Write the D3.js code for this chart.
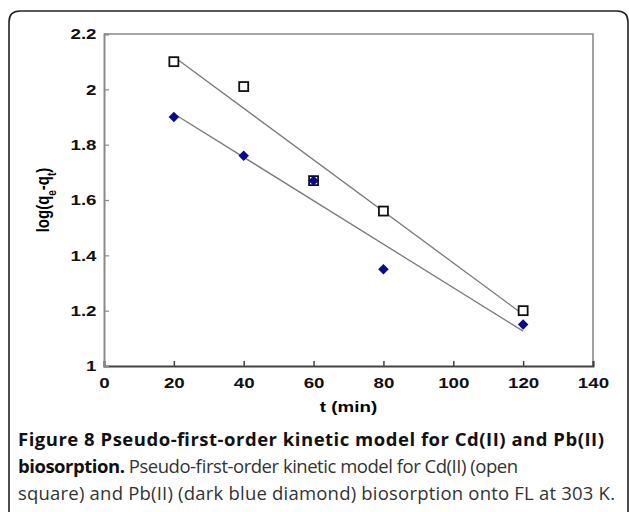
<!DOCTYPE html>
<html lang="en">
<head>
  <meta charset="UTF-8" />
  <title>Pseudo-first-order kinetic model</title>
  <style>
    body { margin: 0; background: #fff; overflow: hidden; }
    svg { position: absolute; top: 0; left: 0; }
    .tick text { font-family: "Liberation Sans", Arial, sans-serif; font-weight: bold; font-size: 15px; fill: #111; }
    .cap { font-family: "Open Sans", "Noto Sans", sans-serif; font-size: 18.5px; fill: #222; }
  </style>
</head>
<body>

<svg id="chart"></svg>

<script src="https://d3js.org/d3.v7.min.js"></script>
<script>
  const width = 629, height = 512;

  // data
  const times = [20, 40, 60, 80, 120];
  const cdValues = [2.1, 2.01, 1.67, 1.56, 1.2];   // open square
  const pbValues = [1.9, 1.76, 1.67, 1.35, 1.15];  // dark blue diamond
  const xTicks = [0, 20, 40, 60, 80, 100, 120, 140];
  const yTicks = [1, 1.2, 1.4, 1.6, 1.8, 2, 2.2];

  const stretch = 1.25; // the figure's text is a bit wide

  const svg = d3.select("#chart").attr("width", width).attr("height", height);

  // outer frame, open at the bottom
  svg.append("path")
    .attr("d", "M9,520 L9,22 Q9,11 20,11 L617,11 Q628,11 628,22 L628,520")
    .attr("fill", "none").attr("stroke", "#222").attr("stroke-width", 1.6);

  const plot = { left: 104, top: 34, right: 593, bottom: 366 };
  const x = d3.scaleLinear().domain([0, 140]).range([plot.left, plot.right]);
  const y = d3.scaleLinear().domain([1, 2.2]).range([plot.bottom, plot.top]);

  // plot border (top / right)
  svg.append("path")
    .attr("d", `M${plot.left},${plot.top} L${plot.right},${plot.top} L${plot.right},${plot.bottom}`)
    .attr("fill", "none").attr("stroke", "#8a8a8a").attr("stroke-width", 1.6);

  const xAxis = svg.append("g")
    .attr("transform", `translate(0,${plot.bottom})`)
    .call(d3.axisBottom(x).tickValues(xTicks).tickSize(-5).tickPadding(11).tickFormat(d3.format("d")));
  xAxis.select(".domain").attr("stroke", "#444").attr("stroke-width", 2);
  xAxis.selectAll(".tick line").attr("stroke", "#444").attr("stroke-width", 1.5);
  xAxis.selectAll(".tick text").attr("transform", `scale(${stretch},1)`);

  const yAxis = svg.append("g")
    .attr("transform", `translate(${plot.left},0)`)
    .call(d3.axisLeft(y).tickValues(yTicks).tickSize(-5).tickPadding(6).tickFormat(d => d3.format("")(+d.toFixed(1))));
  yAxis.select(".domain").attr("stroke", "#8a8a8a").attr("stroke-width", 2);
  yAxis.selectAll(".tick line").attr("stroke", "#8a8a8a").attr("stroke-width", 1.2);
  yAxis.selectAll(".tick").filter(d => d === 1).select("line").remove();
  yAxis.selectAll(".tick text").attr("transform", `scale(${stretch},1)`);

  // least-squares trend lines
  function fit(xs, ys) {
    const mx = d3.mean(xs), my = d3.mean(ys);
    const sxy = d3.sum(xs, (v, i) => (v - mx) * (ys[i] - my));
    const sxx = d3.sum(xs, v => (v - mx) * (v - mx));
    const b = sxy / sxx;
    return t => my + b * (t - mx);
  }
  [cdValues, pbValues].forEach(vals => {
    const f = fit(times, vals);
    const ends = [times[0], times[times.length - 1]];
    svg.append("line")
      .attr("x1", x(ends[0])).attr("y1", y(f(ends[0])))
      .attr("x2", x(ends[1])).attr("y2", y(f(ends[1])))
      .attr("stroke", "#7a7a7a").attr("stroke-width", 1.3);
  });

  // open squares (Cd)
  svg.selectAll(".sq").data(times.map((t, i) => [t, cdValues[i]]))
    .enter().append("rect")
    .attr("class", "sq")
    .attr("x", d => x(d[0]) - 4.5).attr("y", d => y(d[1]) - 4.5)
    .attr("width", 9).attr("height", 9)
    .attr("fill", "#fff").attr("stroke", "#111").attr("stroke-width", 1.8);

  // diamonds (Pb)
  svg.selectAll(".dm").data(times.map((t, i) => [t, pbValues[i]]))
    .enter().append("path")
    .attr("class", "dm")
    .attr("d", d3.symbol().type(d3.symbolDiamond2).size(70))
    .attr("transform", d => `translate(${x(d[0])},${y(d[1])})`)
    .attr("fill", "#0a0a8a");

  // axis titles
  svg.append("text")
    .attr("transform", `translate(${x(70)},412) scale(${stretch},1)`)
    .attr("text-anchor", "middle")
    .style("font-family", "Liberation Sans, Arial, sans-serif")
    .style("font-weight", "bold").style("font-size", "15px")
    .text("t (min)");

  const yt = svg.append("text")
    .attr("transform", `translate(49,${(plot.top + plot.bottom) / 2}) rotate(-90) scale(1,${stretch})`)
    .attr("text-anchor", "middle")
    .style("font-family", "Liberation Sans, Arial, sans-serif")
    .style("font-weight", "bold").style("font-size", "15px");
  yt.append("tspan").text("log(q");
  yt.append("tspan").attr("baseline-shift", "sub").style("font-size", "10px").text("e");
  yt.append("tspan").text("-q");
  yt.append("tspan").attr("baseline-shift", "sub").style("font-size", "10px").text("t");
  yt.append("tspan").text(")");

  // caption
  const capLines = [
    [["Figure 8 Pseudo-first-order kinetic model for Cd(II) and Pb(II)", true]],
    [["biosorption.", true], [" Pseudo-first-order kinetic model for Cd(II) (open", false]],
    [["square) and Pb(II) (dark blue diamond) biosorption onto FL at 303 K.", false]]
  ];
  const capY = [446, 473, 500];
  const capW = [586, 500, 597];
  capLines.forEach((parts, i) => {
    const t = svg.append("text").attr("class", "cap")
      .attr("x", 18).attr("y", capY[i])
      .attr("textLength", capW[i]).attr("lengthAdjust", "spacing");
    parts.forEach(p => {
      t.append("tspan").style("font-weight", p[1] ? "bold" : "normal")
        .style("fill", p[1] ? "#111" : "#333").text(p[0]);
    });
  });
</script>

</body>
</html>
